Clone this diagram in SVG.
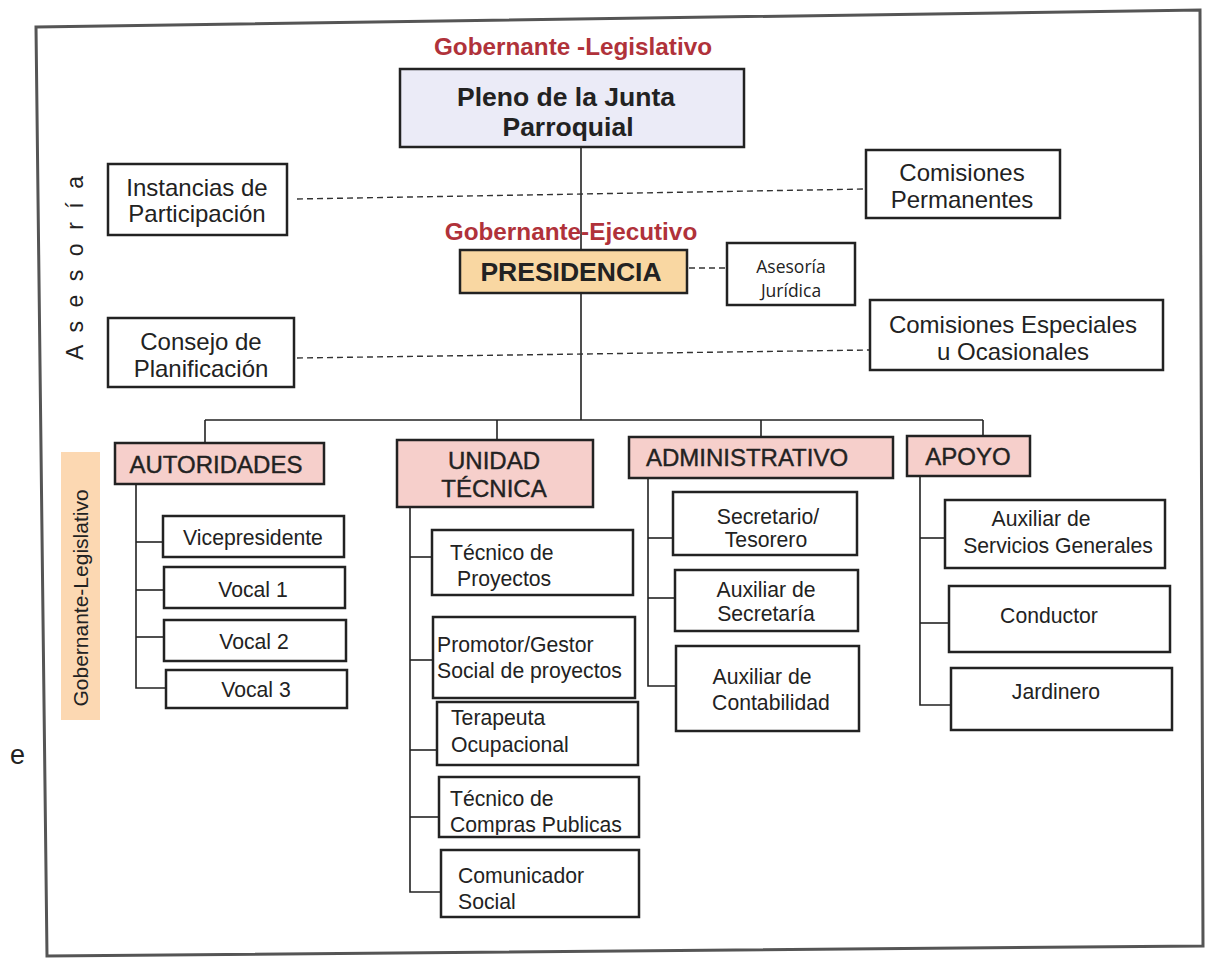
<svg xmlns="http://www.w3.org/2000/svg" width="1213" height="960" viewBox="0 0 1213 960">
<defs>
<style>
.box{fill:#fff;stroke:#222;stroke-width:2.5}
.t{font-family:"Liberation Sans",Arial,sans-serif;fill:#222}
.c{text-anchor:middle}
.red{font-family:"Liberation Sans",Arial,sans-serif;font-weight:bold;fill:#b0323a;font-size:24.3px;text-anchor:middle}
.ln{fill:none;stroke:#222;stroke-width:1.6}
.dash{fill:none;stroke:#333;stroke-width:1.4;stroke-dasharray:6 4}
.head{fill:#f6cfcb;stroke:#222;stroke-width:2.5}
.side{font-size:24px}
.hd{font-size:24px;stroke:#222;stroke-width:0.4}
.ch{font-size:21.2px}
</style>
<clipPath id="clipCompras"><rect x="439" y="777" width="200" height="58"/></clipPath>
</defs>
<rect x="0" y="0" width="1213" height="960" fill="#fff"/>
<polygon points="36,27 1200,10 1203,946 47,956" fill="#fff" stroke="#555" stroke-width="3"/>

<g id="connectors">
<line class="ln" x1="581" y1="147" x2="581" y2="420"/>
<line class="ln" x1="205" y1="420" x2="983" y2="420"/>
<line class="ln" x1="205" y1="420" x2="205" y2="443"/>
<line class="ln" x1="497" y1="420" x2="497" y2="440"/>
<line class="ln" x1="761" y1="420" x2="761" y2="437"/>
<line class="ln" x1="983" y1="420" x2="983" y2="436"/>
<line class="dash" x1="297" y1="199" x2="866" y2="189"/>
<line class="dash" x1="689" y1="268" x2="727" y2="268"/>
<line class="dash" x1="297" y1="358" x2="870" y2="350"/>
<polyline class="ln" points="136,484 136,688 166,688"/>
<line class="ln" x1="136" y1="542" x2="163" y2="542"/>
<line class="ln" x1="136" y1="590" x2="164" y2="590"/>
<line class="ln" x1="136" y1="637" x2="164" y2="637"/>
<polyline class="ln" points="410,507 410,892 441,892"/>
<line class="ln" x1="410" y1="557" x2="432" y2="557"/>
<line class="ln" x1="410" y1="660" x2="433" y2="660"/>
<line class="ln" x1="410" y1="750" x2="437" y2="750"/>
<line class="ln" x1="410" y1="817" x2="439" y2="817"/>
<polyline class="ln" points="648,478 648,686 676,686"/>
<line class="ln" x1="648" y1="538" x2="673" y2="538"/>
<line class="ln" x1="648" y1="598" x2="675" y2="598"/>
<polyline class="ln" points="920,476 920,705 951,705"/>
<line class="ln" x1="920" y1="538" x2="945" y2="538"/>
<line class="ln" x1="920" y1="623" x2="949" y2="623"/>
</g>

<g id="label-gob-leg"><text class="red" x="573" y="55">Gobernante -Legislativo</text></g>
<g id="label-gob-ej"><text class="red" x="571" y="240">Gobernante-Ejecutivo</text></g>

<g id="asesoria">
<text class="t" font-size="23" transform="translate(83,268) rotate(-90)" text-anchor="middle" fill="#333" textLength="184" lengthAdjust="spacing">A s e s o r í a</text>
</g>

<g id="gob-leg-vertical">
<rect x="61" y="452" width="39" height="268" fill="#fcd8b2"/>
<text class="t" font-size="21" transform="translate(88,598) rotate(-90)" text-anchor="middle" fill="#333">Gobernante-Legislativo</text>
</g>

<g id="letter-e"><text class="t" x="10" y="764" font-size="27" fill="#333">e</text></g>

<g id="pleno">
<rect x="400" y="69" width="344" height="78" fill="#ebebf7" stroke="#222" stroke-width="2.5"/>
<text class="t c" x="566" y="106" font-size="26.5" font-weight="bold">Pleno de la Junta</text>
<text class="t c" x="568" y="136" font-size="26.5" font-weight="bold">Parroquial</text>
</g>

<g id="instancias">
<rect class="box" x="108" y="164" width="179" height="71"/>
<text class="t c side" x="197" y="196">Instancias de</text>
<text class="t c side" x="197" y="222">Participación</text>
</g>

<g id="comisiones-permanentes">
<rect class="box" x="866" y="150" width="194" height="68"/>
<text class="t c side" x="962" y="181">Comisiones</text>
<text class="t c side" x="962" y="208">Permanentes</text>
</g>

<g id="presidencia">
<rect x="460" y="250" width="227" height="43" fill="#f9d7a2" stroke="#222" stroke-width="2.5"/>
<text class="t c" x="571" y="281" font-size="26.5" font-weight="bold">PRESIDENCIA</text>
</g>

<g id="asesoria-juridica">
<rect class="box" x="727" y="243" width="128" height="62"/>
<text class="c" x="791" y="273" font-size="17.5" font-family="'Open Sans','Noto Sans',sans-serif" fill="#222">Asesoría</text>
<text class="c" x="791" y="297" font-size="17.5" font-family="'Open Sans','Noto Sans',sans-serif" fill="#222">Jurídica</text>
</g>

<g id="consejo">
<rect class="box" x="108" y="318" width="186" height="69"/>
<text class="t c side" x="201" y="350">Consejo de</text>
<text class="t c side" x="201" y="377">Planificación</text>
</g>

<g id="comisiones-especiales">
<rect class="box" x="870" y="300" width="293" height="70"/>
<text class="t c side" x="1013" y="333">Comisiones Especiales</text>
<text class="t c side" x="1013" y="360">u Ocasionales</text>
</g>

<g id="autoridades">
<rect class="head" x="115" y="443" width="209" height="41"/>
<text class="t c hd" x="216" y="473">AUTORIDADES</text>
</g>
<g id="unidad-tecnica">
<rect class="head" x="397" y="440" width="196" height="67"/>
<text class="t c hd" x="494" y="469">UNIDAD</text>
<text class="t c hd" x="494" y="497">TÉCNICA</text>
</g>
<g id="administrativo">
<rect class="head" x="629" y="437" width="264" height="41"/>
<text class="t c hd" x="747" y="466">ADMINISTRATIVO</text>
</g>
<g id="apoyo">
<rect class="head" x="907" y="436" width="123" height="40"/>
<text class="t c hd" x="968" y="465">APOYO</text>
</g>

<g id="vicepresidente">
<rect class="box" x="163" y="516" width="181" height="41"/>
<text class="t c ch" x="253" y="545">Vicepresidente</text>
</g>
<g id="vocal1">
<rect class="box" x="164" y="567" width="181" height="41"/>
<text class="t c ch" x="253" y="597">Vocal 1</text>
</g>
<g id="vocal2">
<rect class="box" x="164" y="620" width="182" height="41"/>
<text class="t c ch" x="254" y="649">Vocal 2</text>
</g>
<g id="vocal3">
<rect class="box" x="166" y="670" width="181" height="38"/>
<text class="t c ch" x="256" y="697">Vocal 3</text>
</g>

<g id="tecnico-proyectos">
<rect class="box" x="432" y="530" width="201" height="65"/>
<text class="t ch" x="450" y="560">Técnico de</text>
<text class="t ch" x="457" y="586">Proyectos</text>
</g>
<g id="promotor">
<rect class="box" x="433" y="617" width="202" height="81"/>
<text class="t ch" x="437" y="652">Promotor/Gestor</text>
<text class="t ch" x="437" y="678">Social de proyectos</text>
</g>
<g id="terapeuta">
<rect class="box" x="437" y="702" width="201" height="63"/>
<text class="t ch" x="451" y="725">Terapeuta</text>
<text class="t ch" x="451" y="752">Ocupacional</text>
</g>
<g id="tecnico-compras">
<rect class="box" x="439" y="777" width="200" height="60"/>
<g clip-path="url(#clipCompras)">
<text class="t ch" x="450" y="806">Técnico de</text>
<text class="t ch" x="450" y="832">Compras Publicas</text>
</g>
</g>
<g id="comunicador">
<rect class="box" x="441" y="850" width="198" height="67"/>
<text class="t ch" x="458" y="883">Comunicador</text>
<text class="t ch" x="458" y="909">Social</text>
</g>

<g id="secretario">
<rect class="box" x="673" y="492" width="184" height="63"/>
<text class="t c ch" x="768" y="524">Secretario/</text>
<text class="t c ch" x="766" y="547">Tesorero</text>
</g>
<g id="aux-secretaria">
<rect class="box" x="675" y="570" width="183" height="61"/>
<text class="t c ch" x="766" y="597">Auxiliar de</text>
<text class="t c ch" x="766" y="621">Secretaría</text>
</g>
<g id="aux-contabilidad">
<rect class="box" x="676" y="646" width="183" height="85"/>
<text class="t c ch" x="762" y="684">Auxiliar de</text>
<text class="t c ch" x="771" y="710">Contabilidad</text>
</g>

<g id="aux-servicios">
<rect class="box" x="945" y="500" width="220" height="68"/>
<text class="t c ch" x="1041" y="526">Auxiliar de</text>
<text class="t c ch" x="1058" y="553">Servicios Generales</text>
</g>
<g id="conductor">
<rect class="box" x="949" y="586" width="221" height="66"/>
<text class="t c ch" x="1049" y="623">Conductor</text>
</g>
<g id="jardinero">
<rect class="box" x="951" y="668" width="221" height="62"/>
<text class="t c ch" x="1056" y="699">Jardinero</text>
</g>
</svg>
